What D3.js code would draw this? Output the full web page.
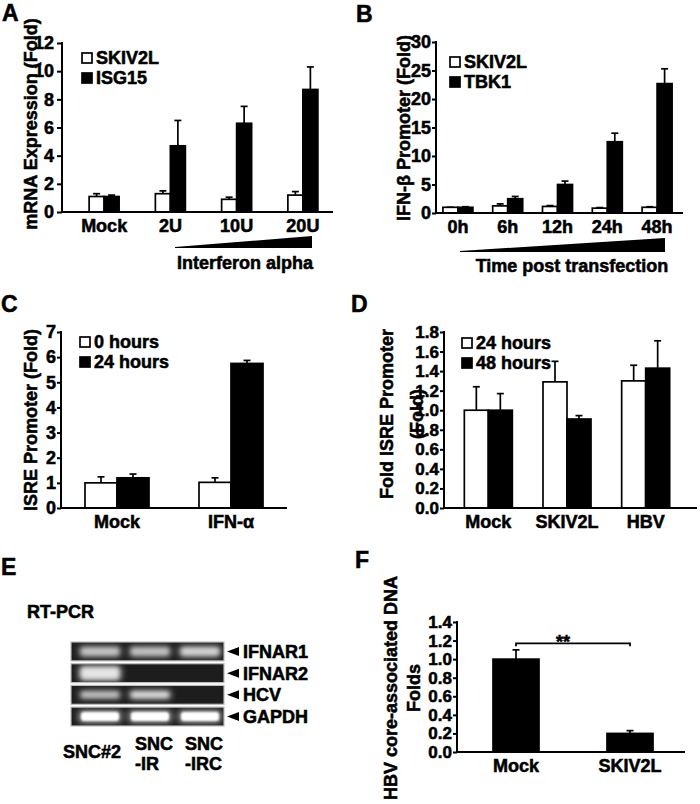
<!DOCTYPE html>
<html><head><meta charset="utf-8">
<script src="https://cdn.jsdelivr.net/npm/d3@7"></script>
<style>
body{margin:0;background:#fff}
svg text{font-family:"Liberation Sans",Arial,Helvetica,sans-serif;font-weight:bold;fill:#000;stroke:#000;stroke-width:0.55px}
</style>
</head><body>
<svg id="c" width="700" height="804"></svg>
<script>
// ---------- DATA ----------
const aCategories = ["Mock", "2U", "10U", "20U"];
const aSeries = ["SKIV2L", "ISG15"];
const aSkiv2l = [1.1, 1.3, 0.9, 1.2];
const aSkiv2lErr = [1.3, 1.5, 1.05, 1.45];
const aIsg15 = [1.1, 4.7, 6.3, 8.7];
const aIsg15Err = [1.2, 6.5, 7.5, 10.3];
const aTicks = [0, 2, 4, 6, 8, 10, 12];

const bCategories = ["0h", "6h", "12h", "24h", "48h"];
const bSeries = ["SKIV2L", "TBK1"];
const bSkiv2l = [1.0, 1.25, 1.15, 0.85, 1.0];
const bSkiv2lErr = [1.0, 1.6, 1.3, 0.95, 1.1];
const bTbk1 = [1.0, 2.5, 5.0, 12.5, 22.7];
const bTbk1Err = [1.1, 2.9, 5.6, 14.0, 25.3];
const bTicks = [0, 5, 10, 15, 20, 25, 30];

const cCategories = ["Mock", "IFN-α"];
const cSeries = ["0 hours", "24 hours"];
const c0h = [1.0, 1.02];
const c0hErr = [1.24, 1.2];
const c24h = [1.2, 5.75];
const c24hErr = [1.35, 5.87];
const cTicks = [0, 1, 2, 3, 4, 5, 6, 7];

const dCategories = ["Mock", "SKIV2L", "HBV"];
const dSeries = ["24 hours", "48 hours"];
const d24h = [1.0, 1.29, 1.30];
const d24hErr = [1.24, 1.50, 1.46];
const d48h = [1.0, 0.91, 1.43];
const d48hErr = [1.17, 0.945, 1.71];
const dTicks = [0, 0.2, 0.4, 0.6, 0.8, 1.0, 1.2, 1.4, 1.6, 1.8];

const eRows = ["IFNAR1", "IFNAR2", "HCV", "GAPDH"];
const eLanes = ["SNC#2", "SNC|-IR", "SNC|-IRC"];
const eBands = [[0.72, 0.7, 0.82], [0.95, 0, 0], [0.72, 0.9, 0], [1, 1, 1]];

const fCategories = ["Mock", "SKIV2L"];
const fValues = [1.0, 0.2];
const fErr = [1.1, 0.23];
const fTicks = [0, 0.2, 0.4, 0.6, 0.8, 1.0, 1.2, 1.4];

// ---------- DRAW ----------
const svg = d3.select("#c");
svg.append("rect").attr("width", 700).attr("height", 804).attr("fill", "#fff");

function letter(t, x, y) {
  svg.append("text").attr("x", x).attr("y", y).style("font-size", "23px").text(t);
}

function yTitle(lines, xs, cy) {
  lines.forEach((l, i) => {
    svg.append("text")
      .attr("transform", `translate(${xs[i]},${cy}) rotate(-90)`)
      .attr("text-anchor", "middle").attr("dy", "0.35em")
      .style("font-size", "18px").text(l);
  });
}

function barPanel(o) {
  const g = svg.append("g");
  const y = d3.scaleLinear().domain([o.ticks[0], o.ticks[o.ticks.length - 1]]).range([o.yBottom, o.yTop]);
  const x = d3.scaleBand().domain(o.categories).range(o.xRange);
  const inner = d3.scaleBand().domain(d3.range(o.values.length)).range([-o.barW * o.values.length / 2, o.barW * o.values.length / 2]);

  // y axis
  const ax = d3.axisLeft(y).tickValues(o.ticks).tickSize(o.tickSize || 4).tickPadding(o.tickPad || 1).tickFormat(o.fmt || d3.format("d"));
  const gy = g.append("g").attr("transform", `translate(${o.axisX},0)`).call(ax);
  gy.select(".domain").remove();
  gy.selectAll(".tick line").attr("stroke", "#000").attr("stroke-width", 2);
  gy.selectAll(".tick text").style("font-size", (o.tickFont || 18) + "px").attr("fill", "#000");

  // bars
  o.values.forEach((vals, si) => {
    const cx = (d, i) => x(o.categories[i]) + x.bandwidth() / 2 + inner(si);
    const fill = o.fills ? o.fills[si] : (si === 0 ? "#fff" : "#000");
    const errs = o.errors[si];
    g.append("g").selectAll("line").data(vals).join("line")
      .attr("x1", (d, i) => cx(d, i) + inner.bandwidth() / 2)
      .attr("x2", (d, i) => cx(d, i) + inner.bandwidth() / 2)
      .attr("y1", d => y(d)).attr("y2", (d, i) => y(errs[i]))
      .attr("stroke", "#000").attr("stroke-width", 1.7);
    g.append("g").selectAll("line").data(vals).join("line")
      .attr("x1", (d, i) => cx(d, i) + inner.bandwidth() / 2 - 3.5)
      .attr("x2", (d, i) => cx(d, i) + inner.bandwidth() / 2 + 3.5)
      .attr("y1", (d, i) => y(errs[i])).attr("y2", (d, i) => y(errs[i]))
      .attr("stroke", "#000").attr("stroke-width", 1.7);
    g.append("g").selectAll("rect").data(vals).join("rect")
      .attr("x", cx).attr("width", inner.bandwidth())
      .attr("y", d => y(d)).attr("height", d => y(0) - y(d))
      .attr("fill", fill).attr("stroke", "#000").attr("stroke-width", 1.7);
  });

  // axis lines
  g.append("line").attr("x1", o.axisX).attr("x2", o.axisX).attr("y1", y.range()[1] - 1).attr("y2", y(0) + 1)
    .attr("stroke", "#000").attr("stroke-width", 2);
  g.append("line").attr("x1", o.axisX).attr("x2", o.xAxisEnd).attr("y1", y(0)).attr("y2", y(0))
    .attr("stroke", "#000").attr("stroke-width", 2);

  // x labels
  const gx = g.append("g").attr("transform", `translate(0,${y(0)})`)
    .call(d3.axisBottom(x).tickSize(0).tickPadding(7));
  gx.select(".domain").remove();
  gx.selectAll(".tick text").style("font-size", "18px").attr("fill", "#000");

  // legend
  if (o.legend) {
    o.legend.labels.forEach((l, i) => {
      g.append("rect").attr("x", o.legend.x).attr("y", o.legend.y + i * 20)
        .attr("width", 10).attr("height", 10)
        .attr("fill", i === 0 ? "#fff" : "#000").attr("stroke", "#000").attr("stroke-width", 1.7);
      g.append("text").attr("x", o.legend.x + 14).attr("y", o.legend.y + i * 20 + 5)
        .attr("dy", "0.36em").style("font-size", "18px").text(l);
    });
  }
  return { x, y, g };
}

// Panel A
letter("A", 2, 21);
barPanel({
  categories: aCategories, values: [aSkiv2l, aIsg15], errors: [aSkiv2lErr, aIsg15Err],
  ticks: aTicks, yBottom: 212, yTop: 43, axisX: 62, xAxisEnd: 333, xRange: [71, 336], barW: 15,
  tickSize: 5, tickPad: 3,
  legend: { x: 82, y: 53, labels: aSeries }
});
yTitle(["mRNA Expression (Fold)"], [31], 124);
svg.append("path").attr("d", "M175,247 L312,236 L312,248 L175,248 Z").attr("fill", "#000");
svg.append("text").attr("x", 245).attr("y", 269).attr("text-anchor", "middle").style("font-size", "18px").text("Interferon alpha");

// Panel B
letter("B", 356, 22);
barPanel({
  categories: bCategories, values: [bSkiv2l, bTbk1], errors: [bSkiv2lErr, bTbk1Err],
  ticks: bTicks, yBottom: 213, yTop: 42, axisX: 436, xAxisEnd: 683, xRange: [433, 682], barW: 15,
  legend: { x: 450, y: 57, labels: bSeries }
});
yTitle(["IFN-β Promoter (Fold)"], [404], 128);
svg.append("path").attr("d", "M460,251 L665,238 L665,252 L460,252 Z").attr("fill", "#000");
svg.append("text").attr("x", 572).attr("y", 272).attr("text-anchor", "middle").style("font-size", "18px").text("Time post transfection");

// Panel C
letter("C", 1, 312);
barPanel({
  categories: cCategories, values: [c0h, c24h], errors: [c0hErr, c24hErr],
  ticks: cTicks, yBottom: 508, yTop: 332, axisX: 61, xAxisEnd: 287, xRange: [60, 288], barW: 32,
  legend: { x: 80, y: 337, labels: cSeries }
});
yTitle(["ISRE Promoter (Fold)"], [31], 420);

// Panel D
letter("D", 351, 312);
barPanel({
  categories: dCategories, values: [d24h, d48h], errors: [d24hErr, d48hErr],
  ticks: dTicks, yBottom: 508, yTop: 332, axisX: 444, xAxisEnd: 697, xRange: [449, 685], barW: 24,
  fmt: d3.format(".1f"), tickFont: 17,
  legend: { x: 462, y: 338, labels: dSeries }
});
yTitle(["Fold ISRE Promoter", "(Fold)"], [387, 417], 414);

// Panel E
letter("E", 1, 575);
svg.append("text").attr("x", 27).attr("y", 618).style("font-size", "18px").text("RT-PCR");
const defs = svg.append("defs");
function blurFilter(id, sd) {
  defs.append("filter").attr("id", id).attr("x", "-50%").attr("y", "-150%").attr("width", "200%").attr("height", "400%")
    .append("feGaussianBlur").attr("stdDeviation", sd);
}
blurFilter("blur3", 3);
blurFilter("blur2", 2);
blurFilter("blur1", 1);
const rowScale = d3.scaleBand().domain(eRows).range([642, 726]).paddingInner(0.13);
const laneScale = d3.scaleBand().domain(eLanes).range([75, 225]);
const bandH = [8, 12, 6, 9];
const gel = svg.append("g");
eRows.forEach((r, ri) => {
  const ry = rowScale(r), rh = rowScale.bandwidth();
  const clipId = "clip" + ri;
  defs.append("clipPath").attr("id", clipId).append("rect")
    .attr("x", 71).attr("y", ry).attr("width", 153).attr("height", rh);
  gel.append("rect").attr("x", 71).attr("y", ry).attr("width", 153).attr("height", rh)
    .attr("fill", "#1d1d1d");
  const bg = gel.append("g").attr("clip-path", `url(#${clipId})`);
  eLanes.forEach((l, li) => {
    const v = eBands[ri][li];
    if (v <= 0) return;
    const bh = bandH[ri];
    const cx = laneScale(l) + laneScale.bandwidth() / 2;
    const cy = ry + rh / 2;
    bg.append("rect").attr("x", cx - 22).attr("y", cy - bh / 2 - 2).attr("width", 44).attr("height", bh + 4)
      .attr("rx", 5).attr("fill", "#fff").attr("opacity", v * 0.55).attr("filter", "url(#blur3)");
    bg.append("rect").attr("x", cx - 19).attr("y", cy - bh / 2).attr("width", 38).attr("height", bh)
      .attr("rx", 3).attr("fill", "#fff").attr("opacity", v * (ri === 3 ? 1 : 0.8))
      .attr("filter", ri === 3 ? "url(#blur1)" : "url(#blur2)");
  });
  gel.append("rect").attr("x", 71).attr("y", ry).attr("width", 153).attr("height", rh)
    .attr("fill", "none").attr("stroke", "#bdbdbd").attr("stroke-width", 1.2);
  const cy = ry + rh / 2;
  gel.append("path").attr("d", `M227,${cy} L239,${cy - 4.5} L239,${cy + 4.5} Z`).attr("fill", "#000");
  gel.append("text").attr("x", 243).attr("y", cy).attr("dy", "0.36em").style("font-size", "18px").text(r);
});
eLanes.forEach((l, li) => {
  const cx = laneScale(l) + laneScale.bandwidth() / 2;
  const parts = l.split("|");
  if (parts.length === 1) {
    svg.append("text").attr("x", cx - 8).attr("y", 758).attr("text-anchor", "middle").style("font-size", "18px").text(parts[0]);
  } else {
    parts.forEach((p, pi) => {
      svg.append("text").attr("x", cx - 15).attr("y", 750 + pi * 20).style("font-size", "18px").text(p);
    });
  }
});

// Panel F
letter("F", 355, 568);
const fp = barPanel({
  categories: fCategories, values: [fValues], errors: [fErr], fills: ["#000"],
  ticks: fTicks, yBottom: 752, yTop: 622, axisX: 457, xAxisEnd: 685, xRange: [459, 687], barW: 46,
  fmt: d3.format(".1f"), tickFont: 17
});
yTitle(["HBV core-associated DNA", "Folds"], [391, 414], 688);
{
  const x1 = fp.x("Mock") + fp.x.bandwidth() / 2;
  const x2 = fp.x("SKIV2L") + fp.x.bandwidth() / 2;
  const yb = fp.y(1.17);
  svg.append("path").attr("d", `M${x1},${yb + 3} L${x1},${yb} L${x2},${yb} L${x2},${yb + 3}`)
    .attr("fill", "none").attr("stroke", "#000").attr("stroke-width", 1.8);
  svg.append("text").attr("x", 563).attr("y", yb + 5).attr("text-anchor", "middle").style("font-size", "18px").text("**");
}
</script>
</body></html>
